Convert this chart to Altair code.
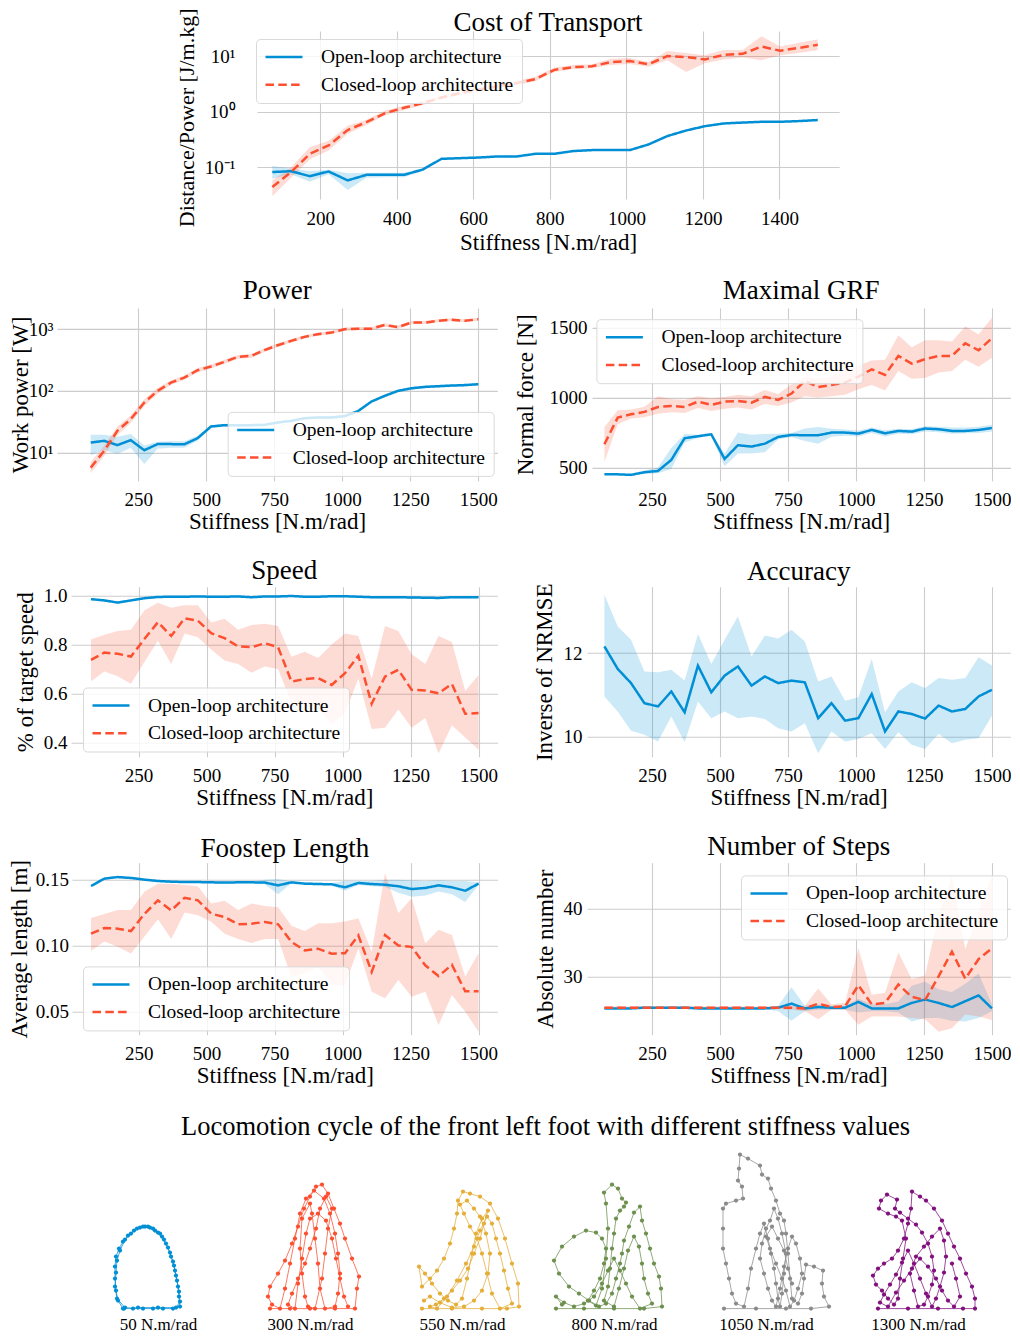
import altair as alt
import pandas as pd

FONT = "Liberation Serif"
BLUE = "#008fd5"
RED = "#fc4f30"
SERIES = ["Open-loop architecture", "Closed-loop architecture"]
BANDS = ["Open-loop spread", "Closed-loop spread"]
XLABEL = "Stiffness [N.m/rad]"

STIFF = [75, 124, 173, 222, 272, 321, 370, 419, 468, 517, 566, 616, 665, 714, 763,
         812, 861, 910, 960, 1009, 1058, 1107, 1156, 1205, 1254, 1304, 1353, 1402, 1451, 1500]

COT_OPEN = [0.082, 0.085, 0.069, 0.084, 0.058, 0.073, 0.073, 0.073, 0.091, 0.142, 0.146, 0.150, 0.157, 0.157, 0.175,
            0.175, 0.196, 0.204, 0.204, 0.204, 0.258, 0.365, 0.46, 0.55, 0.616, 0.64, 0.66, 0.66, 0.68, 0.71]
COT_OPEN_LO = [0.062, 0.075, 0.055, 0.075, 0.039, 0.065, 0.066, 0.066, 0.086, 0.137, 0.141, 0.145, 0.152, 0.152, 0.169,
               0.169, 0.19, 0.198, 0.198, 0.198, 0.25, 0.354, 0.446, 0.535, 0.6, 0.623, 0.642, 0.642, 0.662, 0.69]
COT_OPEN_HI = [0.105, 0.095, 0.085, 0.09, 0.078, 0.08, 0.08, 0.08, 0.096, 0.147, 0.151, 0.155, 0.162, 0.162, 0.181,
               0.181, 0.202, 0.21, 0.21, 0.21, 0.266, 0.376, 0.474, 0.565, 0.632, 0.657, 0.678, 0.678, 0.698, 0.73]
COT_CLOSED = [0.044, 0.082, 0.175, 0.247, 0.47, 0.65, 0.95, 1.18, 1.43, 1.81, 2.17, 2.53, 2.9, 3.3, 3.9,
              5.7, 6.4, 6.6, 7.9, 8.2, 7.2, 10.1, 9.7, 8.8, 10.6, 11.1, 15.0, 12.6, 14.2, 16.1]
COT_CLOSED_LO = [0.030, 0.065, 0.14, 0.20, 0.40, 0.58, 0.87, 1.08, 1.32, 1.68, 2.0, 2.35, 2.7, 3.05, 3.6,
                 5.2, 5.9, 6.1, 7.0, 7.3, 6.5, 8.5, 5.2, 7.5, 8.8, 9.5, 8.5, 10.5, 11.5, 13.0]
COT_CLOSED_HI = [0.058, 0.10, 0.23, 0.30, 0.56, 0.72, 1.05, 1.28, 1.55, 1.95, 2.35, 2.7, 3.1, 3.6, 4.3,
                 6.3, 7.0, 7.2, 9.0, 9.3, 7.9, 12.5, 11.5, 10.5, 13.0, 13.0, 23.0, 15.0, 17.5, 20.0]

POWER_OPEN = [14.5, 15.5, 13.2, 15.9, 10.9, 13.7, 13.7, 13.6, 17.1, 26.4, 27.8, 27.8, 27.8, 28.1, 30.7,
              32.6, 36, 37, 37, 39, 47, 67, 83, 100, 110, 116, 119, 122, 124, 128]
POWER_OPEN_LO = [9.0, 11.0, 9.5, 12.0, 6.5, 11.5, 12.0, 12.0, 15.5, 25, 26.3, 26.3, 26.3, 26.6, 29,
                 30.8, 34, 35, 35, 37, 44.5, 63.5, 79, 95, 104, 110, 113, 116, 118, 122]
POWER_OPEN_HI = [19.5, 19.5, 18, 20, 13, 15, 15.2, 15.2, 18.8, 27.8, 29.3, 29.3, 29.3, 29.6, 32.4,
                 34.4, 38, 39, 39, 41, 49.5, 70.5, 87, 105, 116, 122, 125, 128, 130, 134]
POWER_CLOSED = [5.7, 10.6, 22.5, 34.7, 64.6, 100, 136, 164, 216, 248, 295, 357, 369, 457, 550,
                646, 751, 830, 880, 1000, 1020, 1020, 1170, 1080, 1280, 1280, 1365, 1420, 1365, 1450]
POWER_CLOSED_LO = [4.6, 8.8, 19, 30, 57, 90, 124, 151, 199, 230, 272, 333, 342, 425, 512,
                   604, 705, 780, 828, 940, 962, 962, 1100, 1020, 1205, 1210, 1290, 1345, 1290, 1375]
POWER_CLOSED_HI = [7.0, 12.8, 26.5, 40, 73, 111, 149, 178, 234, 267, 318, 383, 397, 490, 590,
                   690, 800, 882, 935, 1062, 1080, 1080, 1245, 1145, 1360, 1355, 1445, 1500, 1445, 1530]

GRF_OPEN = [452, 452, 448, 467, 476, 555, 710, 724, 738, 562, 660, 650, 671, 719, 733,
            731, 731, 750, 750, 743, 769, 745, 762, 757, 779, 774, 762, 762, 769, 783]
GRF_OPEN_LO = [448, 448, 443, 455, 460, 490, 680, 712, 728, 510, 600, 600, 610, 700, 718,
               690, 670, 720, 728, 722, 748, 722, 742, 738, 758, 752, 742, 746, 748, 758]
GRF_OPEN_HI = [457, 457, 453, 480, 500, 640, 740, 735, 745, 600, 750, 735, 740, 742, 748,
               780, 790, 778, 772, 765, 786, 766, 778, 776, 796, 792, 786, 786, 792, 806]
GRF_CLOSED = [667, 857, 881, 898, 933, 940, 933, 971, 948, 971, 976, 964, 1005, 983, 1029,
              1119, 1076, 1090, 1107, 1150, 1202, 1162, 1298, 1243, 1274, 1298, 1298, 1388, 1338, 1424]
GRF_CLOSED_LO = [540, 810, 850, 860, 885, 895, 890, 925, 905, 920, 930, 915, 955, 940, 965,
                 1010, 1000, 1010, 1020, 1060, 1090, 1050, 1190, 1135, 1140, 1180, 1190, 1270, 1220, 1285]
GRF_CLOSED_HI = [790, 910, 915, 935, 1010, 990, 985, 1010, 995, 1005, 1020, 1010, 1055, 1025, 1095,
                 1150, 1135, 1150, 1200, 1230, 1265, 1270, 1445, 1360, 1410, 1410, 1400, 1510, 1450, 1570]

SPEED_OPEN = [0.985, 0.98, 0.971, 0.98, 0.989, 0.994, 0.995, 0.995, 0.996, 0.995, 0.995, 0.996, 0.993, 0.996, 0.996,
              0.998, 0.995, 0.995, 0.997, 0.997, 0.995, 0.993, 0.993, 0.993, 0.992, 0.991, 0.99, 0.993, 0.993, 0.993]
SPEED_OPEN_LO = [0.981, 0.976, 0.967, 0.976, 0.985, 0.99, 0.991, 0.991, 0.992, 0.991, 0.991, 0.992, 0.989, 0.992, 0.992,
                 0.994, 0.991, 0.991, 0.993, 0.993, 0.991, 0.989, 0.989, 0.989, 0.988, 0.987, 0.986, 0.989, 0.989, 0.989]
SPEED_OPEN_HI = [0.989, 0.984, 0.975, 0.984, 0.993, 0.998, 0.999, 0.999, 1.0, 0.999, 0.999, 1.0, 0.997, 1.0, 1.0,
                 1.0, 0.999, 0.999, 1.0, 1.0, 0.999, 0.997, 0.997, 0.997, 0.996, 0.995, 0.994, 0.997, 0.997, 0.997]
SPEED_CLOSED = [0.737, 0.767, 0.762, 0.751, 0.823, 0.891, 0.835, 0.907, 0.897, 0.846, 0.826, 0.792, 0.789, 0.805, 0.789,
                0.649, 0.659, 0.663, 0.635, 0.683, 0.754, 0.558, 0.669, 0.697, 0.615, 0.612, 0.601, 0.639, 0.517, 0.52]
SPEED_CLOSED_LO = [0.65, 0.69, 0.67, 0.64, 0.73, 0.815, 0.72, 0.845, 0.83, 0.78, 0.735, 0.72, 0.685, 0.71, 0.70,
                   0.56, 0.55, 0.54, 0.475, 0.52, 0.66, 0.455, 0.46, 0.535, 0.46, 0.50, 0.355, 0.47, 0.42, 0.37]
SPEED_CLOSED_HI = [0.82, 0.84, 0.855, 0.86, 0.94, 0.97, 0.95, 0.96, 0.96, 0.89, 0.905, 0.86, 0.88, 0.885, 0.875,
                   0.75, 0.77, 0.745, 0.80, 0.845, 0.835, 0.66, 0.875, 0.855, 0.76, 0.72, 0.835, 0.81, 0.61, 0.675]

ACC = [12.16, 11.62, 11.28, 10.8, 10.72, 11.08, 10.58, 11.70, 11.06, 11.46, 11.68, 11.22, 11.44, 11.28, 11.34,
       11.30, 10.44, 10.80, 10.38, 10.44, 11.02, 10.12, 10.60, 10.54, 10.43, 10.74, 10.60, 10.66, 10.96, 11.12]
ACC_LO = [10.96, 10.6, 10.14, 10.04, 9.88, 10.48, 9.86, 10.84, 10.44, 10.60, 10.44, 10.48, 10.42, 10.2, 10.12,
          10.32, 9.6, 10.12, 9.88, 9.94, 10.08, 9.70, 10.1, 9.80, 9.70, 10.06, 9.84, 9.92, 9.96, 10.5]
ACC_HI = [13.4, 12.64, 12.32, 11.56, 11.54, 11.6, 11.34, 12.46, 11.74, 12.32, 12.88, 11.92, 12.42, 12.35, 12.56,
          12.28, 11.32, 11.44, 10.86, 10.94, 11.86, 10.58, 11.08, 11.30, 11.16, 11.40, 11.36, 11.40, 11.90, 11.70]

FOOT_OPEN = [0.1452, 0.1508, 0.152, 0.1513, 0.150, 0.149, 0.1485, 0.1482, 0.1482, 0.148, 0.1478, 0.148, 0.148, 0.1478, 0.1457,
             0.148, 0.147, 0.1467, 0.1465, 0.1442, 0.1475, 0.1467, 0.1462, 0.145, 0.1429, 0.1437, 0.1457, 0.1442, 0.1416, 0.147]
FOOT_OPEN_LO = [0.1445, 0.1501, 0.1513, 0.1506, 0.1493, 0.1483, 0.1478, 0.1475, 0.1475, 0.1473, 0.1471, 0.1473, 0.1473, 0.1465, 0.139,
                0.1473, 0.1462, 0.1458, 0.1455, 0.1416, 0.146, 0.145, 0.1445, 0.140, 0.137, 0.138, 0.141, 0.139, 0.133, 0.146]
FOOT_OPEN_HI = [0.1459, 0.1515, 0.1527, 0.152, 0.1507, 0.1497, 0.1492, 0.1489, 0.1489, 0.1487, 0.1485, 0.1487, 0.1487, 0.150, 0.1505,
                0.1487, 0.1478, 0.1476, 0.1475, 0.1492, 0.149, 0.149, 0.150, 0.150, 0.1495, 0.149, 0.1495, 0.149, 0.149, 0.148]
FOOT_CLOSED = [0.109, 0.1133, 0.1128, 0.111, 0.1242, 0.1343, 0.1267, 0.1363, 0.1343, 0.1242, 0.1216, 0.1161, 0.1166, 0.1179, 0.1161,
               0.1027, 0.0963, 0.0976, 0.0938, 0.0942, 0.1077, 0.080, 0.108, 0.100, 0.099, 0.085, 0.0768, 0.0854, 0.0652, 0.0652]
FOOT_CLOSED_LO = [0.096, 0.103, 0.099, 0.094, 0.107, 0.120, 0.105, 0.125, 0.123, 0.118, 0.109, 0.105, 0.102, 0.105, 0.105,
                  0.076, 0.079, 0.084, 0.070, 0.070, 0.098, 0.065, 0.060, 0.0739, 0.0612, 0.065, 0.0396, 0.0624, 0.0497, 0.0345]
FOOT_CLOSED_HI = [0.121, 0.124, 0.127, 0.127, 0.141, 0.147, 0.147, 0.146, 0.145, 0.132, 0.134, 0.127, 0.132, 0.130, 0.129,
                  0.115, 0.111, 0.117, 0.117, 0.1183, 0.1208, 0.0954, 0.155, 0.1246, 0.136, 0.1018, 0.112, 0.108, 0.0764, 0.0942]

STEPS_OPEN = [25.4, 25.4, 25.4, 25.5, 25.5, 25.5, 25.5, 25.4, 25.4, 25.4, 25.4, 25.4, 25.4, 25.5, 26.1,
              25.4, 25.6, 25.5, 25.5, 26.35, 25.4, 25.4, 25.4, 26.2, 26.7, 26.2, 25.6, 26.45, 27.3, 25.4]
STEPS_OPEN_LO = [25.3, 25.3, 25.3, 25.3, 25.3, 25.3, 25.3, 25.3, 25.3, 25.3, 25.3, 25.3, 25.3, 25.0, 23.6,
                 25.0, 25.2, 25.2, 25.2, 24.8, 25.0, 25.0, 24.8, 23.5, 24.0, 24.0, 23.6, 23.5, 24.0, 25.0]
STEPS_OPEN_HI = [25.5, 25.5, 25.5, 25.6, 25.6, 25.6, 25.6, 25.5, 25.5, 25.5, 25.5, 25.5, 25.5, 25.8, 28.5,
                 25.8, 26.0, 25.8, 25.8, 26.8, 26.0, 26.0, 26.4, 28.7, 29.3, 28.2, 27.8, 29.0, 30.5, 26.0]
STEPS_CLOSED = [25.5, 25.5, 25.5, 25.5, 25.5, 25.5, 25.5, 25.5, 25.5, 25.5, 25.5, 25.5, 25.5, 25.5, 25.5,
                25.4, 26.1, 25.6, 25.7, 28.8, 26.0, 26.2, 28.9, 27.1, 26.6, 30.1, 33.7, 29.75, 32.6, 34.2]
STEPS_CLOSED_LO = [25.3, 25.3, 25.3, 25.3, 25.3, 25.3, 25.3, 25.3, 25.3, 25.3, 25.3, 25.3, 25.3, 25.3, 25.2,
                   25.0, 23.8, 25.2, 25.2, 23.0, 24.2, 24.2, 24.2, 24.0, 23.8, 22.0, 22.5, 24.5, 24.2, 23.7]
STEPS_CLOSED_HI = [25.7, 25.7, 25.7, 25.7, 25.7, 25.7, 25.7, 25.7, 25.7, 25.7, 25.7, 25.7, 25.7, 25.7, 25.8,
                   25.8, 28.3, 26.0, 26.2, 34.2, 27.4, 27.7, 33.6, 29.7, 30.2, 39.1, 44.7, 34.1, 39.5, 44.9]

TRAJ_LABELS = ["50 N.m/rad", "300 N.m/rad", "550 N.m/rad", "800 N.m/rad", "1050 N.m/rad", "1300 N.m/rad"]
TRAJ_COLORS = ["#008fd5", "#fc4f30", "#e5ae38", "#6d904f", "#8b8b8b", "#810f7c"]
TRAJ_50 = [[35, 0], [30, 8], [28, 18], [27, 30], [27, 42], [28, 52], [31, 60], [35, 67], [40, 73], [46, 78], [52, 81],
           [57, 82], [62, 81], [67, 78], [72, 75], [76, 69], [80, 61], [83, 52], [86, 43], [88, 33], [90, 22], [91, 12],
           [92, 2], [85, 0], [75, 0], [65, 0], [55, 0], [45, 0], [37, 1], [29, 10], [27, 22], [28, 36], [29, 48], [32, 58],
           [37, 69], [43, 75], [49, 80], [55, 82], [60, 82], [65, 80], [70, 76], [74, 72], [78, 65], [82, 56], [85, 47],
           [87, 38], [89, 28], [91, 17], [92, 7], [88, 1], [70, 1], [50, 1], [36, 0]]
TRAJ_300 = [[30, 0], [50, 0], [70, 0], [95, 0], [115, 0], [117, 20], [119, 32], [112, 50], [105, 70], [100, 85], [94, 100],
            [88, 115], [82, 124], [76, 122], [70, 112], [64, 100], [58, 82], [52, 65], [45, 48], [38, 35], [30, 22], [28, 12],
            [32, 4], [40, 0], [45, 20], [50, 45], [55, 70], [60, 95], [66, 110], [74, 118], [84, 110], [90, 95], [95, 75],
            [98, 55], [100, 35], [98, 15], [95, 2], [85, 0], [80, 20], [78, 45], [75, 70], [72, 95], [70, 105], [62, 90],
            [60, 60], [62, 35], [65, 12], [68, 2], [75, 0], [82, 30], [85, 55], [88, 80], [92, 100], [86, 112], [80, 100],
            [76, 80], [70, 60], [65, 45], [58, 30], [52, 15], [48, 4], [55, 0], [58, 25], [62, 50], [66, 75], [70, 90],
            [78, 95], [86, 88], [92, 70], [96, 50], [100, 30], [104, 12], [108, 2]]
TRAJ_550 = [[30, 0], [60, 0], [90, 0], [115, 0], [127, 2], [126, 25], [120, 45], [113, 70], [106, 90], [98, 105], [88, 112],
            [78, 115], [71, 117], [66, 108], [65, 95], [62, 80], [58, 65], [52, 50], [45, 38], [38, 30], [30, 22], [27, 42],
            [33, 35], [40, 25], [48, 15], [56, 8], [64, 4], [70, 10], [75, 30], [80, 55], [84, 75], [90, 90], [96, 98],
            [92, 85], [88, 70], [82, 55], [76, 40], [68, 28], [60, 18], [52, 10], [44, 4], [38, 2], [45, 0], [55, 12],
            [65, 28], [74, 45], [82, 62], [88, 78], [95, 92], [100, 85], [104, 70], [108, 55], [112, 38], [116, 20],
            [120, 5], [108, 0], [100, 15], [95, 35], [90, 55], [85, 70], [78, 82], [72, 95], [68, 104], [75, 108],
            [82, 100], [88, 92], [94, 75], [98, 55], [96, 35], [90, 18], [82, 8], [72, 2], [60, 1], [48, 6], [38, 12], [32, 8]]
TRAJ_800 = [[12, 0], [40, 0], [70, 0], [100, 0], [118, 2], [117, 20], [115, 32], [110, 45], [106, 60], [102, 75], [98, 88],
            [96, 102], [90, 96], [85, 82], [80, 68], [78, 55], [76, 45], [72, 30], [68, 15], [62, 5], [55, 2], [45, 8],
            [35, 15], [25, 22], [15, 35], [10, 48], [18, 62], [30, 72], [42, 78], [52, 76], [58, 70], [62, 60], [60, 45],
            [56, 30], [50, 18], [44, 8], [52, 3], [58, 20], [62, 50], [64, 80], [62, 105], [60, 116], [68, 124], [74, 120],
            [78, 110], [82, 106], [80, 102], [76, 98], [72, 90], [70, 75], [68, 60], [66, 40], [64, 22], [60, 8], [70, 2],
            [75, 20], [80, 40], [84, 58], [90, 72], [95, 62], [98, 45], [100, 30], [104, 15], [108, 5], [96, 0], [88, 12],
            [82, 25], [76, 38], [70, 50], [64, 38], [58, 25], [50, 12], [40, 5], [30, 2], [20, 6], [12, 12], [18, 4]]
TRAJ_1050 = [[28, 0], [60, 0], [90, 0], [115, 0], [133, 2], [128, 12], [126, 25], [127, 38], [118, 42], [110, 44], [108, 30],
             [106, 15], [102, 5], [96, 10], [94, 30], [92, 55], [90, 75], [88, 88], [84, 95], [80, 108], [75, 120], [72, 130],
             [66, 134], [64, 143], [52, 150], [44, 154], [43, 140], [42, 128], [46, 122], [47, 110], [40, 108], [30, 105],
             [27, 100], [27, 80], [27, 60], [30, 45], [33, 30], [36, 15], [40, 5], [48, 2], [52, 20], [55, 40], [60, 60],
             [64, 75], [68, 85], [72, 70], [75, 55], [78, 40], [80, 25], [82, 10], [84, 2], [86, 15], [88, 35], [90, 55],
             [86, 75], [82, 90], [78, 100], [74, 88], [70, 80], [66, 65], [64, 50], [68, 35], [72, 20], [76, 8], [80, 2],
             [84, 20], [88, 42], [92, 60], [96, 72], [100, 65], [104, 50], [106, 35], [102, 20], [98, 8], [94, 2], [90, 18],
             [86, 30], [80, 45], [74, 60], [70, 72], [76, 82], [82, 70], [88, 58], [92, 40], [96, 25]]
TRAJ_1300 = [[30, 0], [60, 0], [90, 0], [115, 0], [127, 0], [127, 10], [124, 22], [118, 35], [112, 50], [106, 62], [100, 75],
             [94, 88], [86, 100], [78, 108], [72, 112], [64, 117], [63, 100], [60, 85], [56, 70], [50, 58], [44, 50], [36, 45],
             [30, 40], [25, 33], [28, 24], [34, 18], [40, 10], [46, 4], [50, 10], [52, 30], [55, 50], [58, 70], [54, 88],
             [48, 92], [40, 95], [31, 100], [33, 108], [39, 114], [49, 109], [47, 100], [52, 96], [60, 90], [68, 84],
             [74, 76], [80, 65], [84, 52], [86, 38], [84, 24], [80, 12], [76, 4], [70, 2], [66, 18], [62, 35], [68, 52],
             [76, 62], [84, 72], [92, 80], [96, 68], [98, 52], [96, 36], [92, 22], [88, 10], [84, 2], [78, 15], [72, 30],
             [66, 45], [60, 58], [54, 46], [48, 34], [42, 24], [36, 14], [32, 6], [40, 2], [48, 16], [56, 28], [64, 40],
             [72, 50], [80, 42], [88, 30], [94, 18], [100, 8], [106, 2], [112, 12], [108, 30], [104, 45]]
TRAJS = [TRAJ_50, TRAJ_300, TRAJ_550, TRAJ_800, TRAJ_1050, TRAJ_1300]


def make_df(ov, olo, ohi, cv=None, clo=None, chi=None):
    recs = []
    for i, s in enumerate(STIFF):
        recs.append({"stiffness": s, "series": SERIES[0], "band": BANDS[0], "mean": ov[i], "lo": olo[i], "hi": ohi[i]})
    if cv is not None:
        for i, s in enumerate(STIFF):
            recs.append({"stiffness": s, "series": SERIES[1], "band": BANDS[1], "mean": cv[i], "lo": clo[i], "hi": chi[i]})
    return pd.DataFrame(recs)


def legend(lx, ly):
    return alt.Legend(title=None, orient="none", legendX=lx, legendY=ly, direction="vertical",
                      symbolType="stroke", symbolSize=1369, symbolStrokeWidth=2.5,
                      labelFont=FONT, labelFontSize=19.5, labelColor="black", labelLimit=400,
                      labelOffset=17, clipHeight=20, rowPadding=7.7, padding=8,
                      fillColor="rgba(255,255,255,0.8)", strokeColor="#d9d9d9", cornerRadius=4)


def panel(df, title, ytitle, xdom, ydom, w, h, xticks, yticks, ytitle_x, ylabel_pad=4,
          log=False, label_expr=None, yfmt=None, leg=None, xtitle_y=41, ytitle_size=23, ytitle_y=None,
          title_offset=1, two=True, ylabel_size=19):
    xs = alt.Scale(domain=xdom, nice=False, zero=False)
    if log:
        ys = alt.Scale(domain=ydom, nice=False, zero=False, type="log")
    else:
        ys = alt.Scale(domain=ydom, nice=False, zero=False)
    xa = alt.Axis(values=xticks, format="d", title=XLABEL, labelPadding=10, titleY=xtitle_y, titleX=w / 2,
                  titleBaseline="middle", titleAlign="center", labelFlush=False, labelOverlap=False)
    ykw = dict(values=yticks, title=ytitle, labelPadding=ylabel_pad, titleX=ytitle_x,
               titleY=(h / 2 if ytitle_y is None else ytitle_y), titleAngle=270, titleBaseline="middle",
               titleAlign="center", titleFontSize=ytitle_size, labelFlush=False, labelOverlap=False,
               labelFontSize=ylabel_size)
    if label_expr:
        ykw["labelExpr"] = label_expr
    if yfmt:
        ykw["format"] = yfmt
    ya = alt.Axis(**ykw)
    dom = SERIES if two else SERIES[:1]
    bdom = BANDS if two else BANDS[:1]
    rng = [BLUE, RED] if two else [BLUE]
    dash = [[1, 0], [8.5, 4.3]] if two else [[1, 0]]
    base = alt.Chart(df)
    x = alt.X("stiffness:Q", scale=xs, axis=xa)
    band = base.mark_area(opacity=0.2, clip=True).encode(
        x=x, y=alt.Y("lo:Q", scale=ys, axis=ya), y2="hi:Q",
        fill=alt.Fill("band:N", scale=alt.Scale(domain=bdom, range=rng), legend=None))
    line = base.mark_line(strokeWidth=2.5, clip=True).encode(
        x=x, y=alt.Y("mean:Q", scale=ys, axis=ya),
        stroke=alt.Stroke("series:N", scale=alt.Scale(domain=dom, range=rng), legend=leg),
        strokeDash=alt.StrokeDash("series:N", scale=alt.Scale(domain=dom, range=dash), legend=leg))
    return alt.layer(band, line).properties(
        width=w, height=h, title=alt.TitleParams(title, offset=title_offset))


def traj_panel(points, color, label, title=None):
    df = pd.DataFrame({"x": [p[0] for p in points], "y": [p[1] for p in points],
                       "k": list(range(len(points)))})
    xsc = alt.Scale(domain=[-6, 146], nice=False, zero=False)
    ysc = alt.Scale(domain=[0, 160], nice=False, zero=False)
    xa = alt.Axis(title=label, labels=False, grid=False, domain=False, ticks=False, titleY=16,
                  titleX=76, titleBaseline="middle", titleAlign="center", titleFontSize=17)
    base = alt.Chart(df)
    ln = base.mark_line(color=color, strokeWidth=0.9, opacity=0.85).encode(
        x=alt.X("x:Q", scale=xsc, axis=xa), y=alt.Y("y:Q", scale=ysc, axis=None), order="k:Q")
    pt = base.mark_circle(color=color, size=18, opacity=1).encode(
        x=alt.X("x:Q", scale=xsc, axis=xa), y=alt.Y("y:Q", scale=ysc, axis=None))
    ch = alt.layer(ln, pt).properties(width=152, height=160)
    if title is not None:
        ch = ch.properties(title=title)
    return ch


def spacer(w, h=1):
    return alt.Chart(pd.DataFrame({"s": [0]})).mark_point(opacity=0).properties(width=w, height=h)


def indep(c):
    return c.resolve_scale(x="independent", y="independent", stroke="independent",
                           strokeDash="independent", fill="independent").resolve_legend(
        stroke="independent", strokeDash="independent", fill="independent")


TICKS = [250, 500, 750, 1000, 1250, 1500]
LOG_EXPR = ("datum.value >= 999 ? '10\u00b3' : datum.value >= 99 ? '10\u00b2' : "
            "datum.value >= 9 ? '10\u00b9' : datum.value >= 0.9 ? '10\u2070' : '10\u207b\u00b9'")

cot = panel(make_df(COT_OPEN, COT_OPEN_LO, COT_OPEN_HI, COT_CLOSED, COT_CLOSED_LO, COT_CLOSED_HI),
            "Cost of Transport", "Distance/Power [J/m.kg]", [35, 1556], [0.0268, 28.6], 582.2, 168,
            [200, 400, 600, 800, 1000, 1200, 1400], [0.1, 1, 10], -70.6, ylabel_pad=22, log=True,
            label_expr=LOG_EXPR, leg=legend(-1, 8), xtitle_y=43, ytitle_size=22, ytitle_y=86.4,
            title_offset=-29)
power = panel(make_df(POWER_OPEN, POWER_OPEN_LO, POWER_OPEN_HI, POWER_CLOSED, POWER_CLOSED_LO, POWER_CLOSED_HI),
              "Power", "Work power [W]", [-49, 1570], [3.47, 2213], 440.3, 173, TICKS, [10, 100, 1000], -37,
              ylabel_pad=4, log=True, label_expr=LOG_EXPR, leg=legend(170.7, 104), title_offset=2.6)
grf = panel(make_df(GRF_OPEN, GRF_OPEN_LO, GRF_OPEN_HI, GRF_CLOSED, GRF_CLOSED_LO, GRF_CLOSED_HI),
            "Maximal GRF", "Normal force [N]", [29.4, 1568], [405, 1640.7], 418.4, 173, TICKS,
            [500, 1000, 1500], -66.3, ylabel_pad=5, yfmt="d", leg=legend(4.4, 11.3), title_offset=2.6)
speed = panel(make_df(SPEED_OPEN, SPEED_OPEN_LO, SPEED_OPEN_HI, SPEED_CLOSED, SPEED_CLOSED_LO, SPEED_CLOSED_HI),
              "Speed", "% of target speed", [1.5, 1570], [0.3416, 1.0355], 426.6, 170, TICKS,
              [0.4, 0.6, 0.8, 1.0], -45.7, ylabel_pad=4, yfmt=".1f", leg=legend(12, 100.7), title_offset=1)
acc = panel(make_df(ACC, ACC_LO, ACC_HI), "Accuracy", "Inverse of NRMSE", [11, 1568], [9.513, 13.59],
            423.4, 170, TICKS, [10, 12], -42.3, ylabel_pad=5, yfmt="d", two=False, title_offset=-3)
foot = panel(make_df(FOOT_OPEN, FOOT_OPEN_LO, FOOT_OPEN_HI, FOOT_CLOSED, FOOT_CLOSED_LO, FOOT_CLOSED_HI),
             "Foostep Length", "Average length [m]", [5, 1570], [0.0323, 0.1629], 425.6, 172, TICKS,
             [0.05, 0.10, 0.15], -52.2, ylabel_pad=3.5, yfmt=".2f", leg=legend(11, 103.7), title_offset=-3.4)
steps = panel(make_df(STEPS_OPEN, STEPS_OPEN_LO, STEPS_OPEN_HI, STEPS_CLOSED, STEPS_CLOSED_LO, STEPS_CLOSED_HI),
              "Number of Steps", "Absolute number", [11, 1568], [21.55, 46.73], 423.4, 172, TICKS,
              [30, 40], -41.8, ylabel_pad=5, yfmt="d", leg=legend(154, 12.7), title_offset=1.6)

big_title = alt.TitleParams("Locomotion cycle of the front left foot with different stiffness values",
                            fontSize=26.5, offset=8.1, dx=83.5, anchor="middle", frame="group", limit=2000)
trajs = []
for idx, (p, c, l) in enumerate(zip(TRAJS, TRAJ_COLORS, TRAJ_LABELS)):
    trajs.append(traj_panel(p, c, l, title=big_title if idx == 2 else None))

row1 = indep(alt.hconcat(spacer(248.6), cot, spacing=0, bounds="flush"))
row2 = indep(alt.hconcat(spacer(49), power, spacer(94), grf, spacing=0, bounds="flush"))
row3 = indep(alt.hconcat(spacer(62.7), speed, spacer(89), acc, spacing=0, bounds="flush"))
row4 = indep(alt.hconcat(spacer(63.7, 228), foot, spacer(89), steps, spacing=0, bounds="flush"))
row5 = indep(alt.hconcat(spacer(74), *trajs, spacing=0, bounds="flush"))

chart = indep(alt.vconcat(row1, row2, row3, row4, row5, spacing=22.9)).properties(
    padding=0, background="white"
).configure(font=FONT).configure_view(stroke=None).configure_axis(
    grid=True, gridColor="#cccccc", gridWidth=1.1, domain=False, ticks=False, tickSize=0,
    labelFont=FONT, labelFontSize=19, labelColor="black", titleFont=FONT, titleFontSize=23,
    titleColor="black", titleFontWeight="normal"
).configure_title(font=FONT, fontSize=27, fontWeight="normal", color="black", frame="group", anchor="middle")

chart.save("out.html", embed_options={"renderer": "svg", "actions": False})
